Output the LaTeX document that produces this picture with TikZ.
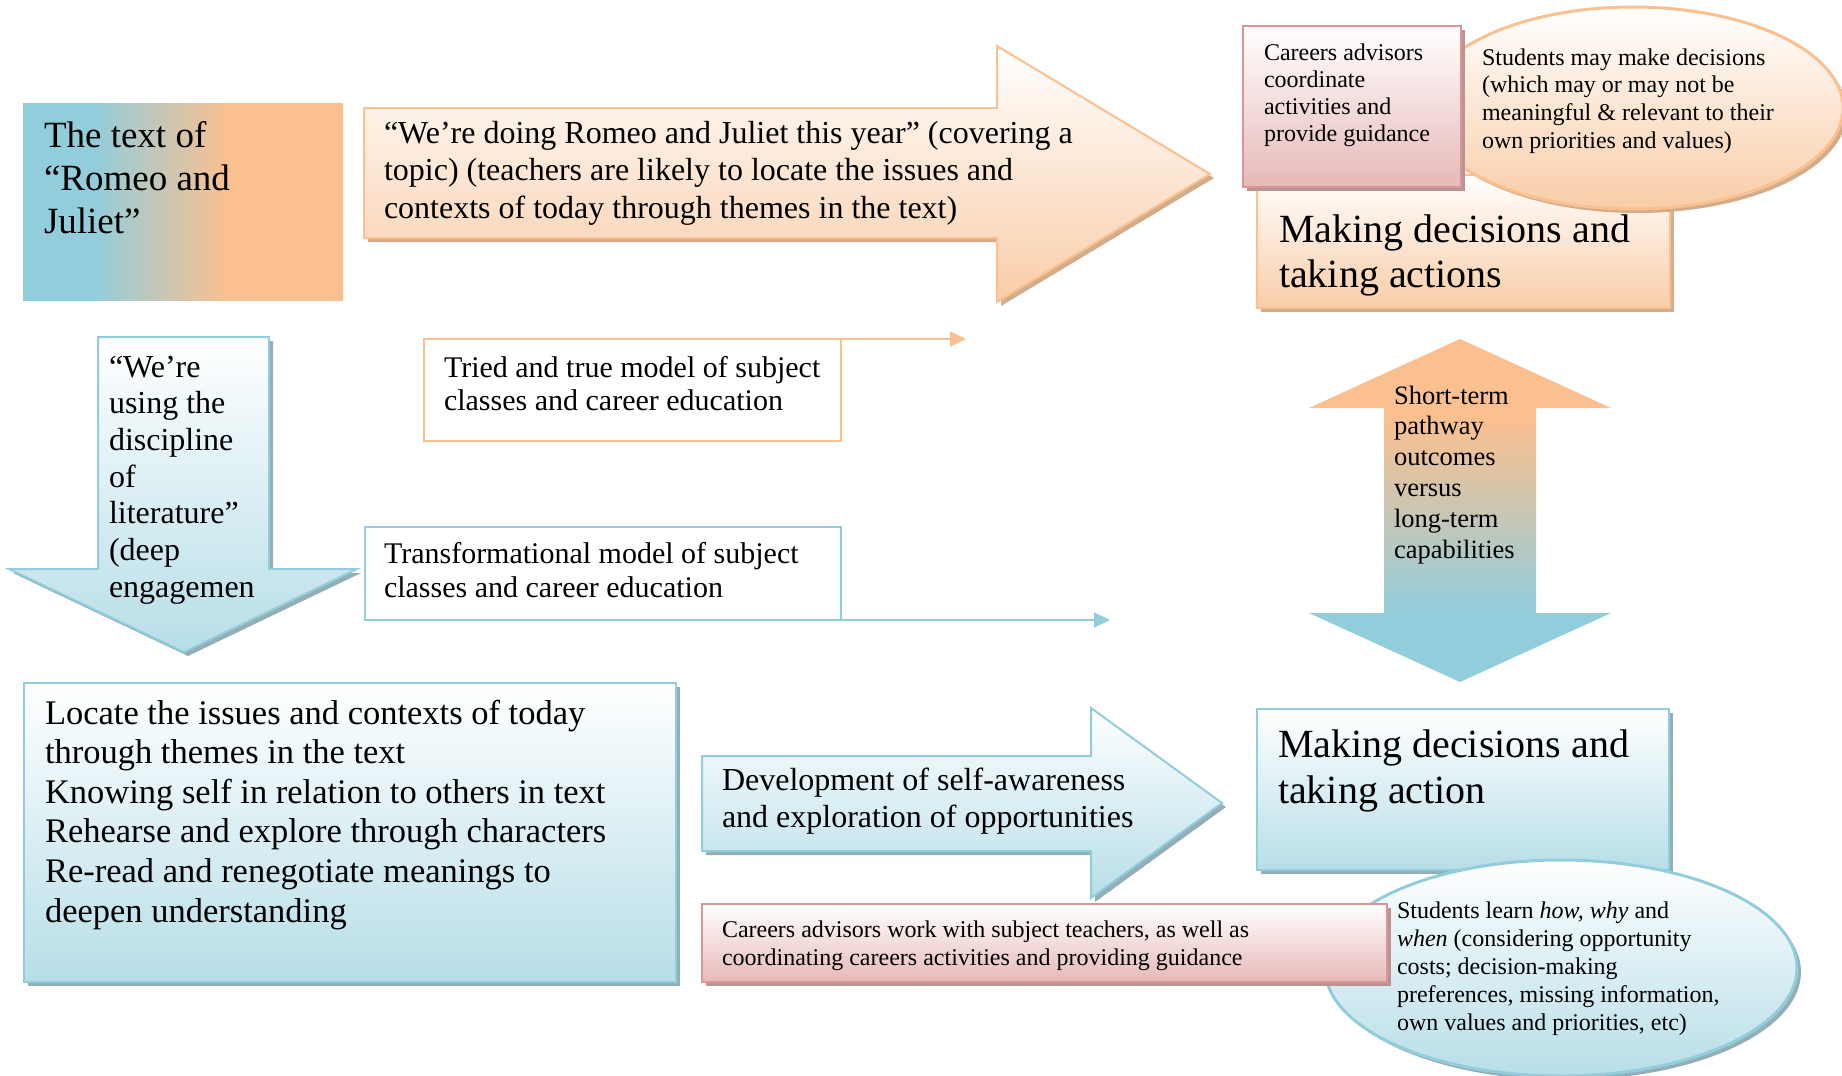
\documentclass[tikz,border=0pt]{standalone}
\usepackage{fontspec}
\setmainfont{Liberation Serif}
\usetikzlibrary{arrows.meta}
\definecolor{oranC}{HTML}{FAC090}
\definecolor{oranL}{HTML}{F9CDA8}
\definecolor{blueC}{HTML}{92CDDC}
\definecolor{blueL}{HTML}{B7DEE8}
\definecolor{pinkC}{HTML}{D99694}
\definecolor{pinkL}{HTML}{E6B9B8}
\definecolor{shO}{HTML}{D3AC8C}
\definecolor{shB}{HTML}{93AEB8}
\definecolor{shP}{HTML}{B99494}
\pgfdeclarehorizontalshading{boShade}{100bp}{color(0bp)=(blueC); color(25bp)=(blueC); color(36bp)=(blueC); color(57bp)=(oranC); color(75bp)=(oranC); color(100bp)=(oranC)}
\pgfdeclareverticalshading{obShade}{100bp}{color(0bp)=(blueC); color(25bp)=(blueC); color(35bp)=(blueC); color(63bp)=(oranC); color(75bp)=(oranC); color(100bp)=(oranC)}
\newcommand\ml[1]{\begin{tabular}[t]{@{}l@{}}#1\end{tabular}}
\begin{document}
\begin{tikzpicture}[x=1pt,y=-1pt,
  txt/.style={anchor=base west, inner sep=0pt, outer sep=0pt},
  shadowO/.style={fill=shO, shift={(4,4)}},
  shadowB/.style={fill=shB, shift={(4,4)}},
  shadowP/.style={fill=shP, shift={(4,4)}},
  oshape/.style={draw=oranC, line width=2pt, top color=white, bottom color=oranL},
  bshape/.style={draw=blueC, line width=2pt, top color=white, bottom color=blueL},
  pshape/.style={draw=pinkC, line width=2pt, top color=white, bottom color=pinkL},
  link/.style={line width=2pt, -{Triangle[length=16pt,width=15pt]}}]
\useasboundingbox (0,0) rectangle (1842,1076);
\fill[white] (0,0) rectangle (1842,1076);

% A: The text of Romeo and Juliet
\path[shading=boShade] (23,103) rectangle (343,300);
\node[txt, font=\fontsize{37}{43}\selectfont] (tA) at (44,147) {\ml{The text of\\“Romeo and\\Juliet”}};

% B: big orange arrow
\fill[shadowO] (364,108) -- (997,108) -- (997,46) -- (1210,174) -- (997,302) -- (997,238) -- (364,238) -- cycle;
\path[oshape] (364,108) -- (997,108) -- (997,46) -- (1210,174) -- (997,302) -- (997,238) -- (364,238) -- cycle;
\node[txt, font=\fontsize{32}{37.5}\selectfont] (tB) at (384,143) {\ml{“We’re doing Romeo and Juliet this year” (covering a\\topic) (teachers are likely to locate the issues and\\contexts of today through themes in the text)}};

% E: Making decisions and taking actions (orange box)
\fill[shadowO] (1257,175) rectangle (1670,308);
\path[oshape] (1257,175) rectangle (1670,308);
\node[txt, font=\fontsize{40}{45}\selectfont] (tE) at (1279,242) {\ml{Making decisions and\\taking actions}};

% D: top ellipse
\fill[shadowO] (1633,108) ellipse [x radius=210, y radius=101];
\path[draw=oranC, line width=3pt, top color=white, bottom color=oranL] (1633,108) ellipse [x radius=210, y radius=101];
\node[txt, font=\fontsize{24}{27.7}\selectfont] (tD) at (1482,65) {\ml{Students may make decisions\\(which may or may not be\\meaningful \& relevant to their\\own priorities and values)}};

% C: top pink box
\fill[shadowP] (1243,26) rectangle (1461,187);
\path[pshape] (1243,26) rectangle (1461,187);
\node[txt, font=\fontsize{24}{27.3}\selectfont] (tC) at (1264,60) {\ml{Careers advisors\\coordinate\\activities and\\provide guidance}};

% G: blue down arrow
\fill[shadowB] (98,337) -- (269,337) -- (269,569) -- (357,569) -- (184,652) -- (9,569) -- (98,569) -- cycle;
\path[bshape] (98,337) -- (269,337) -- (269,569) -- (357,569) -- (184,652) -- (9,569) -- (98,569) -- cycle;
\node[txt, font=\fontsize{32}{36.7}\selectfont] (tG) at (109,377) {\ml{“We’re\\using the\\discipline\\of\\literature”\\(deep\\engagemen}};

% H: Tried and true
\path[draw=oranC, line width=2pt, fill=white] (424,339) rectangle (841,441);
\coordinate (hNE) at (841,339);
\coordinate (hEnd) at (966,339);
\draw[link, oranC] (hNE) -- (hEnd);
\node[txt, font=\fontsize{30}{33.5}\selectfont] (tH) at (444,377) {\ml{Tried and true model of subject\\classes and career education}};

% I: Transformational
\path[draw=blueC, line width=2pt, fill=white] (365,527) rectangle (841,620);
\coordinate (iSE) at (841,620);
\coordinate (iEnd) at (1110,620);
\draw[link, blueC] (iSE) -- (iEnd);
\node[txt, font=\fontsize{30}{34}\selectfont] (tI) at (384,563) {\ml{Transformational model of subject\\classes and career education}};

% F: double arrow
\path[shading=obShade] (1460,339) -- (1611,408) -- (1536,408) -- (1536,613) -- (1611,613) -- (1460,682) -- (1309,613) -- (1384,613) -- (1384,408) -- (1309,408) -- cycle;
\node[txt, font=\fontsize{26.5}{30.8}\selectfont] (tF) at (1394,404) {\ml{Short-term\\pathway\\outcomes\\versus\\long-term\\capabilities}};

% J: big blue box
\fill[shadowB] (24,683) rectangle (676,982);
\path[bshape] (24,683) rectangle (676,982);
\node[txt, font=\fontsize{34.5}{39.6}\selectfont] (tJ) at (45,724) {\ml{Locate the issues and contexts of today\\through themes in the text\\Knowing self in relation to others in text\\Rehearse and explore through characters\\Re-read and renegotiate meanings to\\deepen understanding}};

% K: blue right arrow
\fill[shadowB] (702,756) -- (1091,756) -- (1091,708) -- (1222,803) -- (1091,898) -- (1091,851) -- (702,851) -- cycle;
\path[bshape] (702,756) -- (1091,756) -- (1091,708) -- (1222,803) -- (1091,898) -- (1091,851) -- (702,851) -- cycle;
\node[txt, font=\fontsize{32}{37}\selectfont] (tK) at (722,790) {\ml{Development of self-awareness\\and exploration of opportunities}};

% M: Making decisions and taking action (blue box)
\fill[shadowB] (1257,709) rectangle (1669,870);
\path[bshape] (1257,709) rectangle (1669,870);
\node[txt, font=\fontsize{40}{46}\selectfont] (tM) at (1278,757) {\ml{Making decisions and\\taking action}};

% N: bottom ellipse
\fill[shadowB] (1561,968) ellipse [x radius=236, y radius=108];
\path[draw=blueC, line width=3pt, top color=white, bottom color=blueL] (1561,968) ellipse [x radius=236, y radius=108];
\node[txt, font=\fontsize{24}{28}\selectfont] (tN) at (1397,918) {\ml{Students learn \textit{how, why} and\\\textit{when} (considering opportunity\\costs; decision-making\\preferences, missing information,\\own values and priorities, etc)}};

% L: bottom pink box
\fill[shadowP] (702,904) rectangle (1387,982);
\path[pshape] (702,904) rectangle (1387,982);
\node[txt, font=\fontsize{24}{28}\selectfont] (tL) at (722,937) {\ml{Careers advisors work with subject teachers, as well as\\coordinating careers activities and providing guidance}};
\end{tikzpicture}
\end{document}
